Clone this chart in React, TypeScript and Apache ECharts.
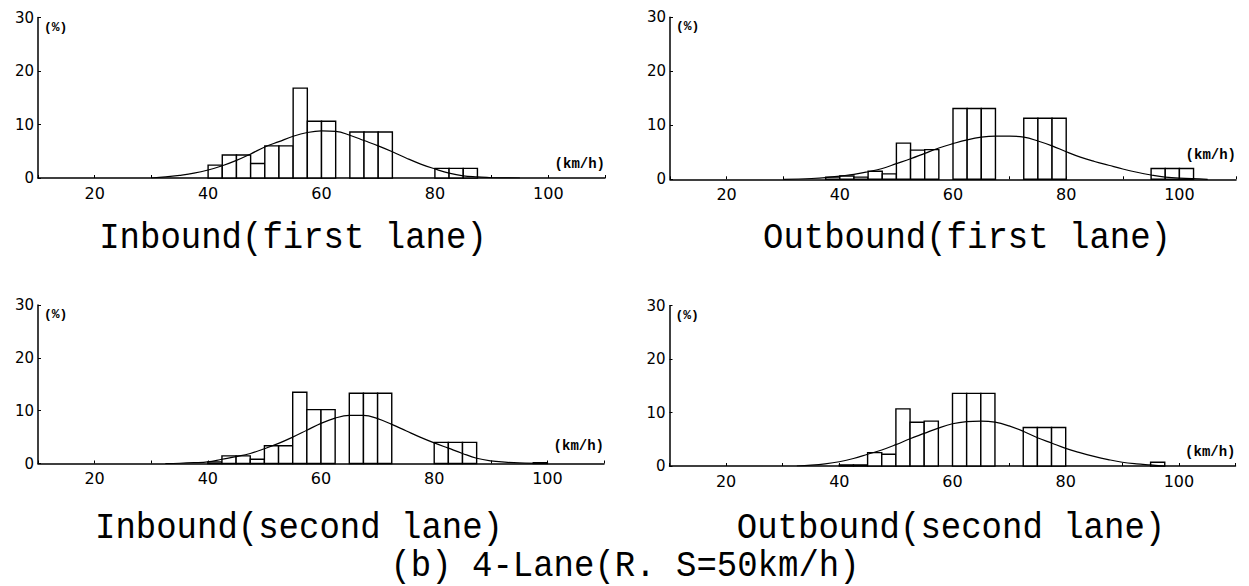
import React, { useEffect, useRef } from "react";
import * as echarts from "echarts";

// ---------- data ----------
const BIN_WIDTH = 2.5;
const binStarts = [37.5, 40, 42.5, 45, 47.5, 50, 52.5, 55, 57.5, 60, 62.5, 65, 67.5, 70, 72.5, 75, 77.5, 80, 82.5, 85, 87.5, 90, 92.5, 95, 97.5, 100, 102.5];

const inboundFirstBars = [0, 2.4, 4.3, 4.3, 2.7, 6.0, 6.0, 16.8, 10.6, 10.6, 0, 8.6, 8.6, 8.6, 0, 0, 0, 1.8, 1.8, 1.8, 0, 0, 0, 0, 0, 0, 0];
const outboundFirstBars = [0.4, 0.6, 0.4, 1.5, 1.0, 6.7, 5.4, 5.5, 0, 13.1, 13.1, 13.1, 0, 0, 11.3, 11.3, 11.3, 0, 0, 0, 0, 0, 0, 2.0, 2.0, 2.0, 0];
const inboundSecondBars = [0, 0.3, 1.45, 1.45, 0.8, 3.35, 3.35, 13.5, 10.2, 10.2, 0, 13.3, 13.3, 13.3, 0, 0, 0, 4.0, 4.0, 4.0, 0, 0, 0, 0, 0.15, 0, 0];
const outboundSecondBars = [0, 0.2, 0.2, 2.5, 2.2, 10.7, 8.2, 8.4, 0, 13.6, 13.6, 13.6, 0, 0, 7.2, 7.2, 7.2, 0, 0, 0, 0, 0, 0, 0.7, 0, 0, 0];

const inboundFirstCurveX = [30, 32.5, 35, 37.5, 40, 42.5, 45, 47.5, 50, 52.5, 55, 57.5, 60, 62.5, 65, 67.5, 70, 72.5, 75, 77.5, 80, 82.5, 85, 87.5, 90, 95];
const inboundFirstCurveY = [0, 0.2, 0.5, 0.9, 1.5, 2.3, 3.3, 4.5, 5.8, 6.8, 7.8, 8.5, 8.8, 8.7, 8.0, 7.0, 6.0, 4.9, 3.7, 2.6, 1.7, 0.9, 0.4, 0.2, 0.05, 0];

const outboundFirstCurveX = [30, 35, 37.5, 40, 42.5, 45, 47.5, 50, 52.5, 55, 57.5, 60, 62.5, 65, 67.5, 70, 72.5, 75, 77.5, 80, 82.5, 85, 87.5, 90, 92.5, 95, 97.5, 100, 105];
const outboundFirstCurveY = [0, 0.15, 0.3, 0.6, 0.9, 1.4, 2.0, 2.9, 3.8, 4.8, 5.8, 6.6, 7.3, 7.8, 8.0, 8.0, 7.8, 7.1, 6.2, 5.1, 4.1, 3.3, 2.6, 1.9, 1.3, 0.8, 0.4, 0.2, 0];

const inboundSecondCurveX = [32.5, 35, 37.5, 40, 42.5, 45, 47.5, 50, 52.5, 55, 57.5, 60, 62.5, 65, 67.5, 70, 72.5, 75, 77.5, 80, 82.5, 85, 87.5, 90, 92.5, 95, 100];
const inboundSecondCurveY = [0, 0.05, 0.15, 0.3, 0.8, 1.3, 1.9, 2.8, 3.8, 5.0, 6.3, 7.6, 8.6, 9.1, 9.1, 8.5, 7.4, 6.2, 5.0, 3.9, 2.9, 1.9, 1.0, 0.5, 0.25, 0.1, 0];

const outboundSecondCurveX = [32.5, 35, 37.5, 40, 42.5, 45, 47.5, 50, 52.5, 55, 57.5, 60, 62.5, 65, 67.5, 70, 72.5, 75, 77.5, 80, 82.5, 85, 87.5, 90, 92.5, 95, 97.5];
const outboundSecondCurveY = [0, 0.15, 0.4, 0.8, 1.4, 2.2, 3.0, 4.0, 5.1, 6.1, 7.1, 7.9, 8.3, 8.4, 8.2, 7.5, 6.5, 5.3, 4.3, 3.3, 2.5, 1.8, 1.2, 0.7, 0.4, 0.2, 0];

const xTickLabels = [20, 40, 60, 80, 100];
const yTickLabels = [0, 10, 20, 30];

const panelTitles = ["Inbound(first lane)", "Outbound(first lane)", "Inbound(second lane)", "Outbound(second lane)"];
const caption = "(b) 4-Lane(R. S=50km/h)";

// ---------- layout ----------
const grids = [
  { left: 38, top: 17.5, width: 567, height: 160.5 },
  { left: 670, top: 17.3, width: 566, height: 162 },
  { left: 38, top: 305, width: 566, height: 158.5 },
  { left: 669.5, top: 305.7, width: 566, height: 160.3 },
];
const unitNamePadding = [7, 17, 11, 7];
const titlePos = [
  [293, 238],
  [967, 238],
  [299, 528],
  [951, 528],
];
const captionPos = [625, 566];

const panels = [
  { bars: inboundFirstBars, cx: inboundFirstCurveX, cy: inboundFirstCurveY },
  { bars: outboundFirstBars, cx: outboundFirstCurveX, cy: outboundFirstCurveY },
  { bars: inboundSecondBars, cx: inboundSecondCurveX, cy: inboundSecondCurveY },
  { bars: outboundSecondBars, cx: outboundSecondCurveX, cy: outboundSecondCurveY },
];

const TITLE_FONT = '34px "Liberation Mono", "DejaVu Sans Mono", monospace';
const TITLE_SCALE_Y = 1.1;

export default function App() {
  const ref = useRef<HTMLDivElement>(null);

  useEffect(() => {
    if (!ref.current) return;
    const chart = echarts.init(ref.current, null, { renderer: "svg" });

    const xAxis = grids.map((_, i) => ({
      type: "value",
      gridIndex: i,
      min: 10,
      max: 110,
      interval: 10,
      name: "(km/h)",
      nameLocation: "end",
      nameGap: 0,
      nameTextStyle: {
        align: "right",
        verticalAlign: "bottom",
        padding: [0, 0, unitNamePadding[i], 0],
        fontFamily: '"Liberation Mono", monospace',
        fontWeight: "bold",
        fontSize: 14,
        color: "#000",
      },
      axisLine: { show: true, onZero: false, lineStyle: { color: "#000", width: 1.5 } },
      axisTick: { show: true, inside: true, length: 3, lineStyle: { color: "#000", width: 1 } },
      splitLine: { show: false },
      axisLabel: {
        margin: 7,
        fontFamily: '"DejaVu Sans", sans-serif',
        fontSize: 16,
        color: "#000",
        formatter: (v: number) => (xTickLabels.includes(v) ? String(v) : ""),
      },
    }));

    const yAxis = grids.map((_, i) => ({
      type: "value",
      gridIndex: i,
      min: 0,
      max: 30,
      interval: 10,
      name: "(%)",
      nameLocation: "end",
      nameGap: -3,
      nameTextStyle: {
        align: "left",
        verticalAlign: "top",
        padding: [0, 0, 0, 6],
        fontFamily: '"Liberation Mono", monospace',
        fontWeight: "bold",
        fontSize: 13,
        color: "#000",
      },
      axisLine: { show: true, lineStyle: { color: "#000", width: 1.5 } },
      axisTick: { show: true, inside: true, length: 3, lineStyle: { color: "#000", width: 1 } },
      splitLine: { show: false },
      axisLabel: {
        margin: 4,
        fontFamily: '"DejaVu Sans", sans-serif',
        fontSize: 15,
        color: "#000",
        formatter: (v: number) => (yTickLabels.includes(v) ? String(v) : ""),
      },
    }));

    const series: any[] = [];
    panels.forEach((p, i) => {
      const data = binStarts
        .map((s, k) => [s, s + BIN_WIDTH, p.bars[k]])
        .filter((d) => d[2] > 0);
      series.push({
        type: "custom",
        xAxisIndex: i,
        yAxisIndex: i,
        z: 2,
        encode: { x: [0, 1], y: 2 },
        data,
        renderItem: (_params: any, api: any) => {
          const lo = api.value(0);
          const hi = api.value(1);
          const v = api.value(2);
          const p0 = api.coord([lo, v]);
          const p1 = api.coord([hi, 0]);
          return {
            type: "rect",
            shape: { x: p0[0], y: p0[1], width: p1[0] - p0[0], height: p1[1] - p0[1] },
            style: { fill: "#fff", stroke: "#000", lineWidth: 1.4 },
          };
        },
      });
      series.push({
        type: "line",
        xAxisIndex: i,
        yAxisIndex: i,
        z: 3,
        smooth: 0.4,
        showSymbol: false,
        symbol: "none",
        lineStyle: { color: "#000", width: 1.2 },
        data: p.cx.map((x, k) => [x, p.cy[k]]),
      });
    });

    const graphic: any[] = panelTitles.map((t, i) => ({
      type: "text",
      x: titlePos[i][0],
      y: titlePos[i][1],
      scaleY: TITLE_SCALE_Y,
      style: {
        text: t,
        font: TITLE_FONT,
        fill: "#000",
        textAlign: "center",
        textVerticalAlign: "middle",
      },
    }));
    graphic.push({
      type: "text",
      x: captionPos[0],
      y: captionPos[1],
      scaleY: TITLE_SCALE_Y,
      style: {
        text: caption,
        font: TITLE_FONT,
        fill: "#000",
        textAlign: "center",
        textVerticalAlign: "middle",
      },
    });

    chart.setOption({
      animation: false,
      backgroundColor: "#fff",
      grid: grids.map((g) => ({ ...g, containLabel: false })),
      xAxis,
      yAxis,
      series,
      graphic,
    });

    return () => chart.dispose();
  }, []);

  return (
    <div
      ref={ref}
      style={{ position: "absolute", left: 0, top: 0, width: 1249, height: 586, background: "#fff" }}
    />
  );
}
